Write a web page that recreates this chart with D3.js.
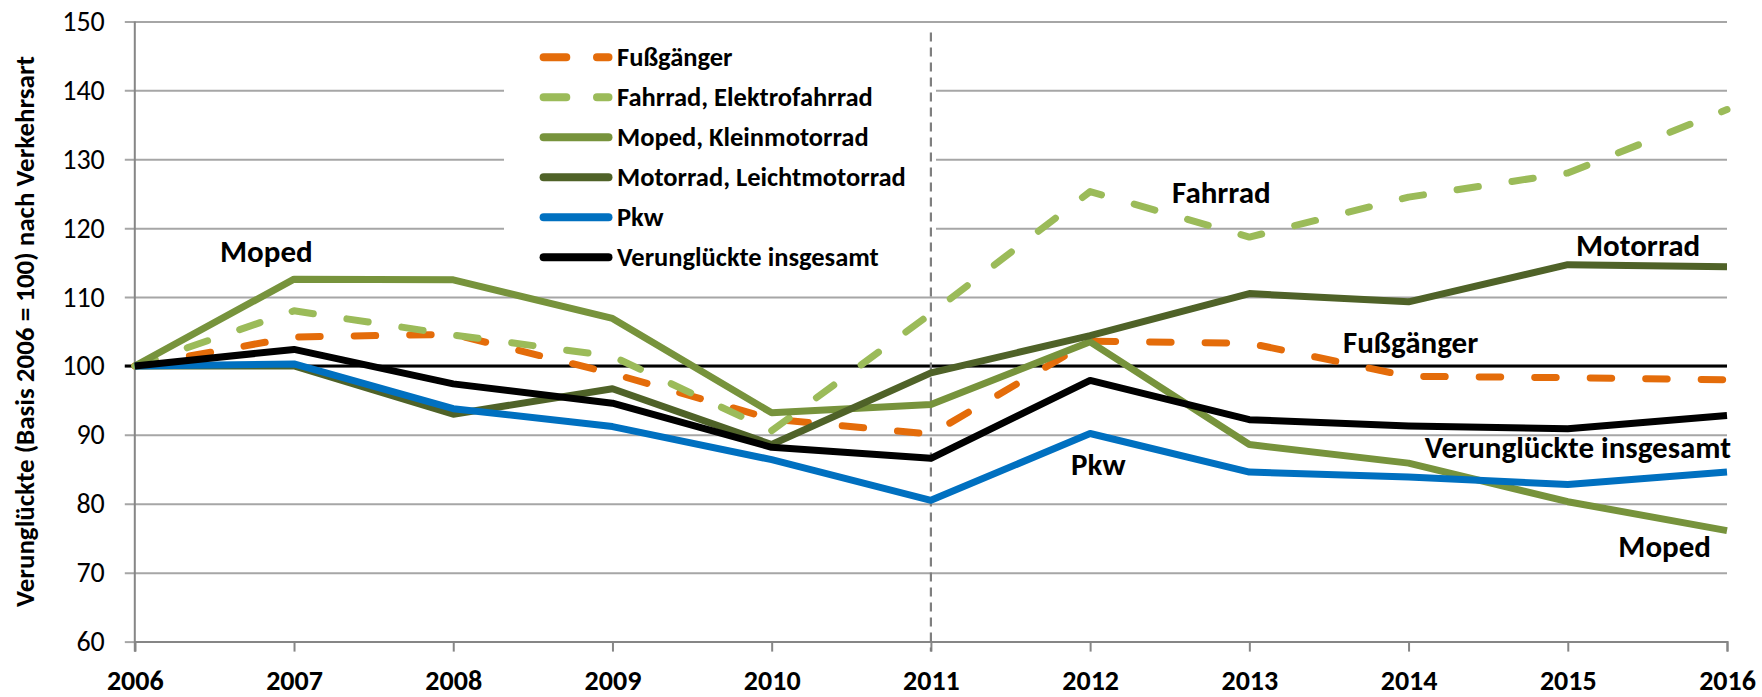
<!DOCTYPE html>
<html>
<head>
<meta charset="utf-8">
<script src="https://cdn.jsdelivr.net/npm/d3@7"></script>
<style>
  body { margin: 0; background: #fff; }
  svg { display: block; font-family: Calibri, Carlito, Lato, sans-serif; }
</style>
</head>
<body>
<div id="chart"></div>
<script>
// values (index, 2006 = 100)
var years = [2006, 2007, 2008, 2009, 2010, 2011, 2012, 2013, 2014, 2015, 2016];
var fussgaenger = [100, 104.2, 104.6, 98.9, 92.3, 90.1, 103.6, 103.3, 98.5, 98.3, 98.0];
var fahrrad = [100, 108.0, 104.5, 101.4, 90.6, 107.6, 125.3, 118.7, 124.5, 128.0, 137.2];
var moped = [100, 112.6, 112.5, 106.9, 93.2, 94.4, 103.5, 88.6, 85.9, 80.3, 76.1];
var motorrad = [100, 100, 93.0, 96.7, 88.6, 99.0, 104.4, 110.5, 109.3, 114.7, 114.4];
var pkw = [100, 100.3, 93.8, 91.2, 86.4, 80.5, 90.2, 84.6, 83.9, 82.8, 84.6];
var insgesamt = [100, 102.4, 97.4, 94.6, 88.2, 86.6, 97.9, 92.2, 91.3, 90.9, 92.8];

var seriesNames = ["Fußgänger", "Fahrrad, Elektrofahrrad", "Moped, Kleinmotorrad",
                   "Motorrad, Leichtmotorrad", "Pkw", "Verunglückte insgesamt"];
var yTicks = [60, 70, 80, 90, 100, 110, 120, 130, 140, 150];
var baseValue = 100;   // Basis 2006
var markYear = 2011;   // dashed vertical marker
var yTitle = "Verunglückte (Basis 2006 = 100) nach Verkehrsart";

var series = [
  { name: seriesNames[0], values: fussgaenger, color: "#E46C0A", dashed: true },
  { name: seriesNames[1], values: fahrrad, color: "#9BBB59", dashed: true },
  { name: seriesNames[2], values: moped, color: "#77933C", dashed: false },
  { name: seriesNames[3], values: motorrad, color: "#4F6228", dashed: false },
  { name: seriesNames[4], values: pkw, color: "#0070C0", dashed: false },
  { name: seriesNames[5], values: insgesamt, color: "#000000", dashed: false }
];

var width = 1762, height = 697;
var margin = { top: 21.4, right: 35, bottom: 55.4, left: 134.8 };

var x = d3.scaleLinear().domain([2006, 2016]).range([margin.left, width - margin.right]);
var y = d3.scaleLinear().domain([60, 150]).range([height - margin.bottom, margin.top]);

var svg = d3.select("#chart").append("svg")
  .attr("width", width)
  .attr("height", height);

// gridlines (they run into the left tick marks)
var yAxis = svg.append("g")
  .attr("transform", "translate(" + margin.left + ",0)")
  .call(d3.axisLeft(y).tickValues(yTicks).tickSize(10).tickPadding(20));
yAxis.select(".domain").remove();
yAxis.selectAll(".tick line").attr("stroke", "#a6a6a6").attr("stroke-width", 2)
  .attr("x2", function (d) { return d === 60 ? 0 : x(2016) - margin.left; })
  .attr("x1", -10);
yAxis.selectAll(".tick text")
  .attr("font-size", 28)
  .attr("fill", "#000")
  .attr("font-family", "Calibri, Carlito, Lato, sans-serif");

// legend box (white, hides the gridlines behind it)
svg.append("rect")
  .attr("x", 504).attr("y", 27)
  .attr("width", 432).attr("height", 262)
  .attr("fill", "#fff");

// x axis
var xAxis = svg.append("g")
  .attr("transform", "translate(0," + y(60) + ")")
  .call(d3.axisBottom(x).tickValues(years).tickFormat(d3.format("d")).tickSize(10).tickPadding(19));
xAxis.select(".domain").attr("stroke", "#868686").attr("stroke-width", 2);
xAxis.selectAll(".tick line").attr("stroke", "#868686").attr("stroke-width", 2);
xAxis.selectAll(".tick text")
  .attr("font-size", 28)
  .attr("font-weight", "bold")
  .attr("fill", "#000")
  .attr("font-family", "Calibri, Carlito, Lato, sans-serif");

// y axis line
svg.append("line")
  .attr("x1", margin.left).attr("x2", margin.left)
  .attr("y1", y(150)).attr("y2", y(60) + 10)
  .attr("stroke", "#868686").attr("stroke-width", 2);

// basis line at 100
svg.append("line")
  .attr("x1", margin.left - 10).attr("x2", x(2016))
  .attr("y1", y(baseValue)).attr("y2", y(baseValue))
  .attr("stroke", "#000").attr("stroke-width", 3);

// dashed marker at 2011
svg.append("line")
  .attr("x1", x(markYear)).attr("x2", x(markYear))
  .attr("y1", y(150) + 11).attr("y2", y(60) + 10)
  .attr("stroke", "#7f7f7f").attr("stroke-width", 2.2)
  .attr("stroke-dasharray", "9,6");

// series
var line = d3.line()
  .x(function (d, i) { return x(years[i]); })
  .y(function (d) { return y(d); });

svg.append("g").selectAll("path")
  .data(series)
  .enter().append("path")
  .attr("d", function (d) { return line(d.values); })
  .attr("fill", "none")
  .attr("stroke", function (d) { return d.color; })
  .attr("stroke-width", 7)
  .attr("stroke-linejoin", "round")
  .attr("stroke-linecap", function (d) { return d.dashed ? "round" : "butt"; })
  .attr("stroke-dasharray", function (d) { return d.dashed ? "21.5,34" : null; });

// legend
var legend = svg.append("g").attr("transform", "translate(0,57.3)");
var item = legend.selectAll("g")
  .data(series)
  .enter().append("g")
  .attr("transform", function (d, i) { return "translate(0," + i * 40 + ")"; });
item.append("line")
  .attr("x1", 543.6).attr("x2", 608.5)
  .attr("stroke", function (d) { return d.color; })
  .attr("stroke-width", 8)
  .attr("stroke-linecap", "round")
  .attr("stroke-dasharray", function (d) { return d.dashed ? "22.7,30.7" : null; });
item.append("text")
  .attr("x", 617).attr("y", 8.5)
  .attr("font-size", 26.5)
  .attr("font-weight", "bold")
  .text(function (d) { return d.name; });

// labels next to the lines
var labels = [
  { text: "Moped", x: 220, y: 262, anchor: "start" },
  { text: "Fahrrad", x: 1172, y: 203, anchor: "start" },
  { text: "Motorrad", x: 1576, y: 256, anchor: "start" },
  { text: "Fußgänger", x: 1343, y: 353, anchor: "start" },
  { text: "Pkw", x: 1071, y: 475, anchor: "start" },
  { text: "Verunglückte insgesamt", x: 1731, y: 458, anchor: "end" },
  { text: "Moped", x: 1711, y: 556.7, anchor: "end" }
];
svg.append("g").selectAll("text")
  .data(labels)
  .enter().append("text")
  .attr("x", function (d) { return d.x; })
  .attr("y", function (d) { return d.y; })
  .attr("text-anchor", function (d) { return d.anchor; })
  .attr("font-size", 31)
  .attr("font-weight", "bold")
  .text(function (d) { return d.text; });

// y axis title
svg.append("text")
  .attr("transform", "translate(33.5," + (y(60) + y(150)) / 2 + ") rotate(-90)")
  .attr("text-anchor", "middle")
  .attr("font-size", 27)
  .attr("font-weight", "bold")
  .text(yTitle);
</script>
</body>
</html>
